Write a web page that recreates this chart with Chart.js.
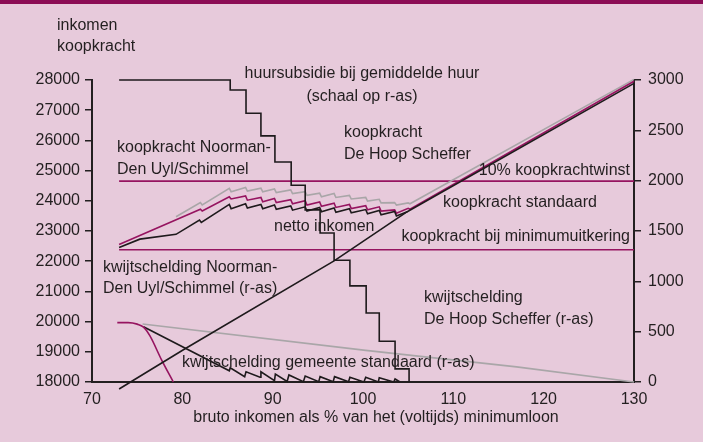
<!DOCTYPE html>
<html>
<head>
<meta charset="utf-8">
<script src="https://cdn.jsdelivr.net/npm/chart.js@4.4.1/dist/chart.umd.min.js"></script>
<style>
  body { margin: 0; background: #e7cadb; }
  canvas { display: block; }
</style>
</head>
<body>
<canvas id="chart" width="703" height="442"></canvas>
<script>
// x = bruto inkomen als % van het minimumloon
const xTicks = [70, 80, 90, 100, 110, 120, 130];
const leftTicks = [18000, 19000, 20000, 21000, 22000, 23000, 24000, 25000, 26000, 27000, 28000];
const rightTicks = [0, 500, 1000, 1500, 2000, 2500, 3000];

// huursubsidie bij gemiddelde huur (r-as)
const huurX = [73, 85.3, 87.05, 88.7, 90.25, 92.05, 93.6, 95.25, 96.8, 98.55, 100.35, 101.8, 103.55, 105.1];
const huurY = [3000, 2900, 2670, 2445, 2185, 1955, 1710, 1480, 1210, 955, 685, 405, 130, 0];

// netto inkomen
const nettoX = [73, 80.3, 96.8, 104.9];
const nettoY = [17770, 19100, 22010, 23640];

// koopkracht standaard
const kkStdX = [73, 75.3, 79.3, 81.9, 82.1, 85.2, 85.4, 87.0, 87.2, 88.7, 88.9, 90.2, 90.4, 92.0, 92.2, 93.6, 93.8, 95.2, 95.4, 96.8, 97.0, 98.5, 98.7, 100.3, 100.5, 101.8, 102.0, 103.5, 103.7, 104.9, 130];
const kkStdY = [22450, 22730, 22890, 23360, 23280, 23880, 23740, 23900, 23760, 23880, 23740, 23860, 23720, 23830, 23690, 23800, 23660, 23780, 23640, 23760, 23620, 23740, 23600, 23710, 23570, 23680, 23540, 23650, 23500, 23640, 27890];

// koopkracht Noorman-Den Uyl/Schimmel
const kkNdsX = [73, 82.0, 82.2, 85.2, 85.4, 87.0, 87.2, 88.7, 88.9, 90.2, 90.4, 92.0, 92.2, 93.6, 93.8, 95.2, 95.4, 96.8, 97.0, 98.5, 98.7, 100.3, 100.5, 101.8, 102.0, 103.5, 103.7, 105.0, 105.2, 130];
const kkNdsY = [22550, 23720, 23660, 24130, 24060, 24160, 24020, 24110, 23970, 24080, 23940, 24040, 23900, 24000, 23860, 23960, 23820, 23920, 23780, 23880, 23740, 23840, 23700, 23800, 23660, 23700, 23590, 23750, 23720, 27960];

// koopkracht De Hoop Scheffer
const kkDhsX = [79.3, 82.0, 82.2, 85.2, 85.4, 87.0, 87.2, 88.7, 88.9, 90.2, 90.4, 92.0, 92.2, 93.6, 93.8, 95.2, 95.4, 96.8, 97.0, 98.5, 98.7, 100.3, 100.5, 101.8, 102.0, 103.5, 103.7, 105.0, 105.2, 130];
const kkDhsY = [23470, 23940, 23860, 24410, 24300, 24440, 24320, 24420, 24300, 24390, 24270, 24360, 24240, 24300, 24180, 24250, 24130, 24240, 24110, 24180, 24060, 24110, 23990, 24050, 23930, 23940, 23860, 23930, 23900, 28020];

// referentielijnen
const winstLevel = 24650;     // 10% koopkrachtwinst
const minimumLevel = 22380;   // koopkracht bij minimumuitkering
const refX = [73, 130];

// kwijtschelding (r-as)
const kwNdsX = [72.8, 74.0, 75.0, 75.7, 76.4, 77.7, 79.0];
const kwNdsY = [590, 590, 575, 545, 460, 220, 0];
const kwDhsX = [75.6, 100.3, 117.0, 130];
const kwDhsY = [576, 314, 150, 0];
const kwStdX = [75.7, 85.2, 85.3, 86.9, 87.05, 88.6, 88.7, 90.2, 90.3, 91.6, 91.8, 93.4, 93.6, 95.1, 95.25, 96.7, 96.85, 98.4, 98.55, 100.1, 100.3, 101.7, 101.8, 103.4, 103.55, 104.1];
const kwStdY = [549, 112, 142, 53, 102, 47, 102, 13, 79, 5, 70, 3, 60, 3, 53, 3, 53, 3, 47, 0, 47, 0, 43, 0, 30, 0];

const MAGENTA = '#961460';
const GREY = '#a9a6a8';
const BLACK = '#1e1a1c';
const TEXT = '#231f20';
const FONT = '"Liberation Sans", Arial, sans-serif';

function pts(xs, ys) {
    return xs.map((x, i) => ({ x: x, y: ys[i] }));
}

function line(data, color, axis, extra) {
    return Object.assign({
        data: data,
        borderColor: color,
        borderWidth: 1.6,
        pointRadius: 0,
        fill: false,
        tension: 0,
        clip: false,
        yAxisID: axis
    }, extra || {});
}

// Tekstlabels in het plotvlak
const labels = [
    { t: 'inkomen', x: 57, y: 26, a: 'left' },
    { t: 'koopkracht', x: 57, y: 47, a: 'left' },
    { t: 'huursubsidie bij gemiddelde huur', x: 362, y: 74, a: 'center' },
    { t: '(schaal op r-as)', x: 362, y: 97, a: 'center' },
    { t: 'koopkracht', x: 344, y: 133, a: 'left' },
    { t: 'De Hoop Scheffer', x: 344, y: 155, a: 'left' },
    { t: 'koopkracht Noorman-', x: 117, y: 148, a: 'left' },
    { t: 'Den Uyl/Schimmel', x: 117, y: 170, a: 'left' },
    { t: '10% koopkrachtwinst', x: 630, y: 171, a: 'right' },
    { t: 'koopkracht standaard', x: 443, y: 203, a: 'left' },
    { t: 'netto inkomen', x: 274, y: 227, a: 'left' },
    { t: 'koopkracht bij minimumuitkering', x: 630, y: 237, a: 'right' },
    { t: 'kwijtschelding Noorman-', x: 103, y: 268, a: 'left' },
    { t: 'Den Uyl/Schimmel (r-as)', x: 103, y: 289, a: 'left' },
    { t: 'kwijtschelding', x: 424, y: 298, a: 'left' },
    { t: 'De Hoop Scheffer (r-as)', x: 424, y: 320, a: 'left' },
    { t: 'kwijtschelding gemeente standaard (r-as)', x: 182, y: 363, a: 'left' },
    { t: 'bruto inkomen als % van het (voltijds) minimumloon', x: 376, y: 418, a: 'center' }
];

const decorPlugin = {
    id: 'decor',
    beforeDraw(chart) {
        const ctx = chart.ctx;
        ctx.save();
        ctx.fillStyle = '#e7cadb';
        ctx.fillRect(0, 0, chart.width, chart.height);
        ctx.fillStyle = '#8c0c55';
        ctx.fillRect(0, 0, chart.width, 4);
        ctx.restore();
    },
    afterDraw(chart) {
        const ctx = chart.ctx;
        ctx.save();
        ctx.font = '16px ' + FONT;
        ctx.fillStyle = TEXT;
        ctx.textBaseline = 'middle';
        labels.forEach(l => {
            ctx.textAlign = l.a;
            ctx.fillText(l.t, l.x, l.y);
        });
        ctx.restore();
    }
};

const tickFont = { family: FONT, size: 16 };
const plain = v => String(v);

new Chart(document.getElementById('chart'), {
    type: 'line',
    data: {
        datasets: [
            line(pts(huurX, huurY), BLACK, 'yR', { stepped: true }),
            line(pts(nettoX, nettoY), BLACK, 'yL'),
            line(pts(kkStdX, kkStdY), BLACK, 'yL'),
            line(pts(kkNdsX, kkNdsY), MAGENTA, 'yL'),
            line(pts(kkDhsX, kkDhsY), GREY, 'yL'),
            line(pts(refX, [winstLevel, winstLevel]), MAGENTA, 'yL'),
            line(pts(refX, [minimumLevel, minimumLevel]), MAGENTA, 'yL'),
            line(pts(kwNdsX, kwNdsY), MAGENTA, 'yR', { tension: 0.4, cubicInterpolationMode: 'monotone' }),
            line(pts(kwDhsX, kwDhsY), GREY, 'yR'),
            line(pts(kwStdX, kwStdY), BLACK, 'yR')
        ]
    },
    options: {
        responsive: false,
        animation: false,
        devicePixelRatio: 1,
        layout: { padding: { top: 80, left: 0, right: 0, bottom: 0 } },
        plugins: {
            legend: { display: false },
            tooltip: { enabled: false }
        },
        scales: {
            x: {
                type: 'linear',
                min: 70,
                max: 130,
                afterBuildTicks: s => { s.ticks = xTicks.map(v => ({ value: v })); },
                afterFit: s => { s.height = 60; },
                grid: { display: false, drawTicks: false },
                border: { display: true, color: '#231f20', width: 2 },
                ticks: { color: TEXT, font: tickFont, padding: 8, maxRotation: 0, callback: plain }
            },
            yL: {
                type: 'linear',
                position: 'left',
                min: 18000,
                max: 28000,
                afterBuildTicks: s => { s.ticks = leftTicks.map(v => ({ value: v })); },
                afterFit: s => { s.width = 92; },
                grid: { drawOnChartArea: false, drawTicks: true, tickLength: 7, color: '#231f20', lineWidth: 1.5 },
                border: { display: true, color: '#231f20', width: 2 },
                ticks: { color: TEXT, font: tickFont, padding: 5, callback: plain }
            },
            yR: {
                type: 'linear',
                position: 'right',
                min: 0,
                max: 3000,
                afterBuildTicks: s => { s.ticks = rightTicks.map(v => ({ value: v })); },
                afterFit: s => { s.width = 69; },
                grid: { drawOnChartArea: false, drawTicks: true, tickLength: 7, color: '#231f20', lineWidth: 1.5 },
                border: { display: true, color: '#231f20', width: 2 },
                ticks: { color: TEXT, font: tickFont, padding: 7, callback: plain }
            }
        }
    },
    plugins: [decorPlugin]
});
</script>
</body>
</html>
